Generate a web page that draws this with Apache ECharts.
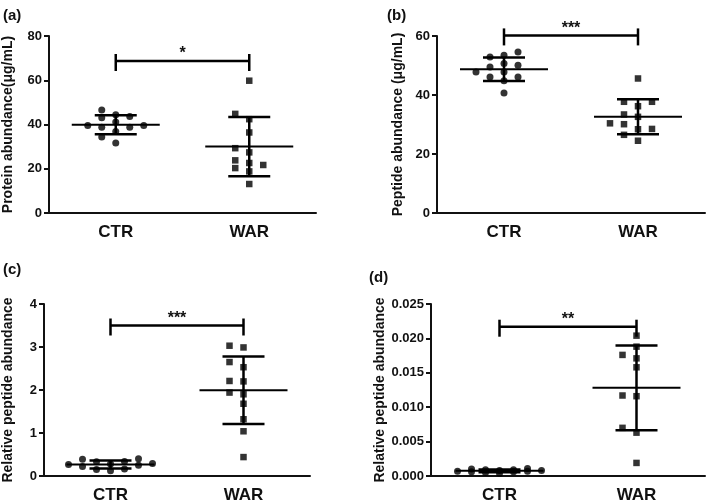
<!doctype html>
<html lang="en">
<head>
<meta charset="UTF-8">
<title>CTR vs WAR</title>
<script src="https://cdn.jsdelivr.net/npm/echarts@6/dist/echarts.min.js"></script>
<style>
  html, body { margin: 0; padding: 0; background: #fff; }
  #main { width: 709px; height: 504px; }
</style>
</head>
<body>
<div id="main"></div>
<script type="text/javascript">

var groups = ['CTR', 'WAR'];

// (a) protein abundance, ug/mL
var protCTR = [46.6, 43.1, 38.8, 43.6, 38.8, 31.6, 44.4, 39.5, 36.8, 39.5, 34.3, 41.1];
var protWAR = [59.8, 44.8, 42.4, 36.4, 29.3, 27.4, 21.7, 22.6, 23.8, 20.3, 18.8, 13.1];
// (b) peptide abundance, ug/mL
var pepCTR = [54.6, 50.7, 47.8, 52.9, 49.5, 46.1, 40.7, 53.5, 47.8, 44.8, 50.1, 46.1];
var pepWAR = [45.6, 36.2, 37.7, 37.7, 33.4, 32.6, 30.1, 30.4, 28.4, 28.5, 26.5, 24.5];
// (c) relative peptide abundance
var relCTR = [0.27, 0.34, 0.15, 0.28, 0.22, 0.39, 0.16, 0.29, 0.33, 0.12, 0.25, 0.40];
var relWAR = [3.03, 2.99, 2.65, 2.53, 2.20, 2.21, 1.90, 1.94, 1.68, 1.32, 1.04, 0.44];
// (d) relative peptide abundance
var rel2CTR = [0.0004, 0.0006, 0.0007, 0.0009, 0.0008, 0.0011, 0.0007, 0.0006, 0.0009, 0.0010, 0.0005, 0.0008];
var rel2WAR = [0.0204, 0.0188, 0.0171, 0.0176, 0.0158, 0.0117, 0.0116, 0.0070, 0.0063, 0.0019];

var tags = ['(a)', '(b)', '(c)', '(d)'];
var yNames = ['Protein abundance(μg/mL)', 'Peptide abundance (μg/mL)', 'Relative peptide abundance', 'Relative peptide abundance'];
var yMax = [80, 60, 4, 0.025];
var yStep = [20, 20, 1, 0.005];
var stars = ['*', '***', '***', '**'];
var starLevel = [68.7, 60.2, 3.5, 0.0217];

var panelData = [[protCTR, protWAR], [pepCTR, pepWAR], [relCTR, relWAR], [rel2CTR, rel2WAR]];

// layout
var grids = [
    {left: 49, right: 393, top: 36, bottom: 291},
    {left: 437, right: 4, top: 36, bottom: 291},
    {left: 43, right: 399, top: 304, bottom: 25},
    {left: 431, right: 4, top: 304, bottom: 25}
];
var nameGaps = [34, 32, 29, 44];
var tagPos = [[3, 8], [387, 8], [3, 262], [369, 270]];
var H = 504;

function mean(a) {
    return a.reduce(function (s, v) { return s + v; }, 0) / a.length;
}
function sd(a) {
    var m = mean(a);
    return Math.sqrt(a.reduce(function (s, v) { return s + (v - m) * (v - m); }, 0) / (a.length - 1));
}

// simple column swarm: pixel offsets so dots don't sit on top of each other
function swarm(vals, pxPerUnit) {
    var step = 14, gap = 7, maxK = 3;
    var order = vals.map(function (v, i) { return i; }).sort(function (a, b) { return vals[a] - vals[b]; });
    var placed = [];
    var off = [];
    order.forEach(function (i) {
        var y = vals[i] * pxPerUnit;
        var best = null, bestD = -1, bestK = 0;
        for (var k = 0; k <= maxK && best === null; k++) {
            var cands = k === 0 ? [0] : [-k, k];
            for (var j = 0; j < cands.length; j++) {
                var c = cands[j];
                var d = Infinity;
                placed.forEach(function (p) {
                    if (p.c === c) d = Math.min(d, Math.abs(p.y - y));
                });
                if (d >= gap) { best = c; break; }
                if (d > bestD) { bestD = d; bestK = c; }
            }
        }
        if (best === null) best = bestK;
        placed.push({c: best, y: y});
        off[i] = best * step;
    });
    return off;
}

var option = {
    animation: false,
    backgroundColor: '#fff',
    textStyle: {fontFamily: 'Liberation Sans, Arial, sans-serif'},
    title: [],
    grid: [],
    xAxis: [],
    yAxis: [],
    series: []
};

var axisColor = '#111';

panelData.forEach(function (pd, p) {
    var g = grids[p];
    option.grid.push(g);
    option.title.push({
        text: tags[p], left: tagPos[p][0], top: tagPos[p][1], padding: 0,
        textStyle: {fontSize: 15, fontWeight: 'bold', color: '#111'}
    });
    option.xAxis.push({
        type: 'category', gridIndex: p, data: groups,
        axisLine: {lineStyle: {color: axisColor, width: 2}},
        axisTick: {alignWithLabel: true, length: 5, lineStyle: {color: axisColor, width: 2}},
        axisLabel: {color: '#111', fontSize: 17, fontWeight: 'bold', margin: 11}
    });
    option.yAxis.push({
        type: 'value', gridIndex: p, min: 0, max: yMax[p], interval: yStep[p],
        name: yNames[p], nameLocation: 'middle', nameGap: nameGaps[p],
        nameTextStyle: {fontSize: 14, fontWeight: 'bold', color: '#111'},
        splitLine: {show: false},
        axisLine: {show: true, lineStyle: {color: axisColor, width: 2}},
        axisTick: {show: true, length: 5, lineStyle: {color: axisColor, width: 2}},
        axisLabel: {
            color: '#111', fontSize: 13, fontWeight: 'bold', margin: 7,
            formatter: p === 3 ? function (v) { return v.toFixed(3); } : null
        }
    });

    var pxPerUnit = (H - g.top - g.bottom) / yMax[p];

    pd.forEach(function (vals, gi) {
        var offs = swarm(vals, pxPerUnit);
        option.series.push({
            type: 'scatter', xAxisIndex: p, yAxisIndex: p,
            symbol: gi === 0 ? 'circle' : 'rect',
            symbolSize: gi === 0 ? 7 : 6.5,
            itemStyle: {color: '#000'},
            z: 3,
            data: vals.map(function (v, i) {
                return {value: [gi, v], symbolOffset: [offs[i], 0]};
            })
        });
    });

    // mean +/- SD
    option.series.push({
        type: 'custom', xAxisIndex: p, yAxisIndex: p, z: 4,
        data: pd.map(function (vals, gi) { return [gi, mean(vals), sd(vals)]; }),
        renderItem: function (params, api) {
            var c = api.value(0), m = api.value(1), s = api.value(2);
            var pm = api.coord([c, m]);
            var pt = api.coord([c, m + s]);
            var pb = api.coord([c, m - s]);
            var st = {stroke: '#000', lineWidth: 2};
            var st2 = {stroke: '#000', lineWidth: 2.5};
            return {
                type: 'group', children: [
                    {type: 'line', shape: {x1: pm[0] - 44, y1: pm[1], x2: pm[0] + 44, y2: pm[1]}, style: st},
                    {type: 'line', shape: {x1: pt[0], y1: pt[1], x2: pb[0], y2: pb[1]}, style: st2},
                    {type: 'line', shape: {x1: pt[0] - 21, y1: pt[1], x2: pt[0] + 21, y2: pt[1]}, style: st2},
                    {type: 'line', shape: {x1: pb[0] - 21, y1: pb[1], x2: pb[0] + 21, y2: pb[1]}, style: st2}
                ]
            };
        }
    });

    // significance bracket
    option.series.push({
        type: 'custom', xAxisIndex: p, yAxisIndex: p, z: 5,
        data: [[0, 1, starLevel[p]]],
        renderItem: function (params, api) {
            var a = api.coord([api.value(0), api.value(2)]);
            var b = api.coord([api.value(1), api.value(2)]);
            var st = {stroke: '#000', lineWidth: 2.5};
            return {
                type: 'group', children: [
                    {type: 'line', shape: {x1: a[0], y1: a[1], x2: b[0], y2: b[1]}, style: st},
                    {type: 'line', shape: {x1: a[0], y1: a[1] - 7, x2: a[0], y2: a[1] + 10}, style: st},
                    {type: 'line', shape: {x1: b[0], y1: b[1] - 7, x2: b[0], y2: b[1] + 10}, style: st},
                    {type: 'text', style: {
                        x: (a[0] + b[0]) / 2, y: a[1] + 1, text: stars[p],
                        fill: '#111', font: 'bold 16px Liberation Sans, Arial, sans-serif',
                        align: 'center', verticalAlign: 'bottom'
                    }}
                ]
            };
        }
    });
});

var chart = echarts.init(document.getElementById('main'));
chart.setOption(option);

</script>
</body>
</html>
